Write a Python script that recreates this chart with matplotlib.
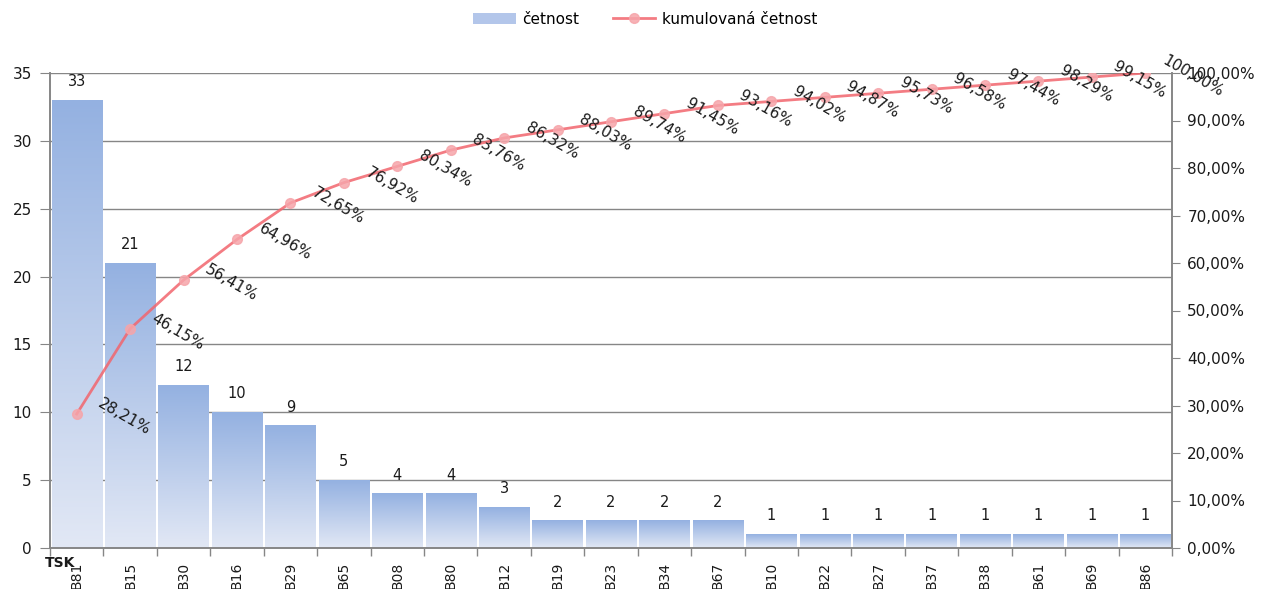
import numpy as np
import matplotlib
matplotlib.use("Agg")
import matplotlib.pyplot as plt
from matplotlib.patches import Patch
from matplotlib.lines import Line2D
from matplotlib.colors import LinearSegmentedColormap
from matplotlib.ticker import FuncFormatter, MultipleLocator

# ---------------------------------------------------------
# data
# ---------------------------------------------------------
categories = ["B81", "B15", "B30", "B16", "B29", "B65", "B08", "B80", "B12", "B19", "B23",
              "B34", "B67", "B10", "B22", "B27", "B37", "B38", "B61", "B69", "B86"]
counts = [33, 21, 12, 10, 9, 5, 4, 4, 3, 2, 2, 2, 2, 1, 1, 1, 1, 1, 1, 1, 1]
cumulative_pct = [28.21, 46.15, 56.41, 64.96, 72.65, 76.92, 80.34, 83.76, 86.32, 88.03, 89.74,
                  91.45, 93.16, 94.02, 94.87, 95.73, 96.58, 97.44, 98.29, 99.15, 100.00]

bar_top = "#94b1e1"
bar_bottom = "#e2e8f5"
line_color = "#f2656d"
grid_color = "#868686"
text_color = "#1a1a1a"

plt.rcParams["font.family"] = ["DejaVu Sans"]
plt.rcParams["font.size"] = 10

fig = plt.figure(figsize=(12.65, 5.89), dpi=100)
ax = fig.add_axes([50 / 1265, 41 / 589, 1122 / 1265, 475 / 589])
ax2 = ax.twinx()

x = np.arange(len(categories))
bw = 0.94

# bars with vertical gradient
cmap = LinearSegmentedColormap.from_list("bargrad", [bar_bottom, bar_top])
grad = np.linspace(0, 1, 256).reshape(-1, 1)
for xi, c in zip(x, counts):
    ax.imshow(grad, cmap=cmap, origin="lower", aspect="auto",
              extent=(xi - bw / 2, xi + bw / 2, 0, c), zorder=2, interpolation="bilinear")
    ax.annotate(str(c), (xi, c), xytext=(0, 11), textcoords="offset pixels",
                ha="center", va="bottom", fontsize=10.5, color=text_color, zorder=5)

ax.set_xlim(-0.5, len(categories) - 0.5)
ax.set_ylim(0, 35)
ax.yaxis.set_major_locator(MultipleLocator(5))
ax.grid(True, axis="y", color=grid_color, linewidth=1, zorder=0)
ax.set_axisbelow(True)

# x axis: labels at centers, ticks at boundaries
ax.set_xticks(x)
ax.set_xticklabels(categories, rotation=90, va="top", fontsize=10, color=text_color)
ax.tick_params(axis="x", which="major", length=0, pad=10)
ax.set_xticks(np.arange(-0.5, len(categories) + 0.5, 1), minor=True)
ax.tick_params(axis="x", which="minor", length=6, color=grid_color, width=1)
ax.tick_params(axis="y", length=7, color=grid_color, labelsize=11, labelcolor=text_color, pad=6)

ax.text(-0.005, -0.032, "TSK", transform=ax.transAxes, fontsize=10, fontweight="bold",
        ha="left", va="center", color=text_color, zorder=7)

# cumulative line
ax2.plot(x, cumulative_pct, color=line_color, linewidth=2, alpha=0.85, zorder=4,
         marker="o", markersize=7, markerfacecolor="#f6a5aa", markeredgecolor="#f6a5aa")
ax2.set_ylim(0, 100)
ax2.yaxis.set_major_locator(MultipleLocator(10))
ax2.yaxis.set_major_formatter(FuncFormatter(lambda v, p: f"{v:.2f}%".replace(".", ",")))
ax2.tick_params(axis="y", length=6, color=grid_color, labelsize=11, labelcolor=text_color, pad=5)

for xi, p in zip(x, cumulative_pct):
    ax2.annotate(f"{p:.2f}%".replace(".", ","), (xi, p), xytext=(48, -3),
                 textcoords="offset pixels", rotation=-30, rotation_mode="anchor",
                 ha="center", va="center", fontsize=11, color=text_color, zorder=6,
                 annotation_clip=False)

for a in (ax, ax2):
    for side in ("left", "right", "bottom"):
        a.spines[side].set_color(grid_color)
        a.spines[side].set_linewidth(1.2)
    a.spines["top"].set_visible(False)

handles = [Patch(facecolor="#b3c6ea", edgecolor="none"),
           Line2D([0], [0], color=line_color, linewidth=2, alpha=0.85, marker="o", markersize=7,
                  markerfacecolor="#f6a5aa", markeredgecolor="#f6a5aa")]
fig.legend(handles, ["četnost", "kumulovaná četnost"], loc="center",
           bbox_to_anchor=(645 / 1265, 1 - 19 / 589), ncol=2, frameon=False,
           fontsize=11, handlelength=2.8, columnspacing=2.2, handletextpad=0.4)

fig.savefig("out.png", dpi=100)
